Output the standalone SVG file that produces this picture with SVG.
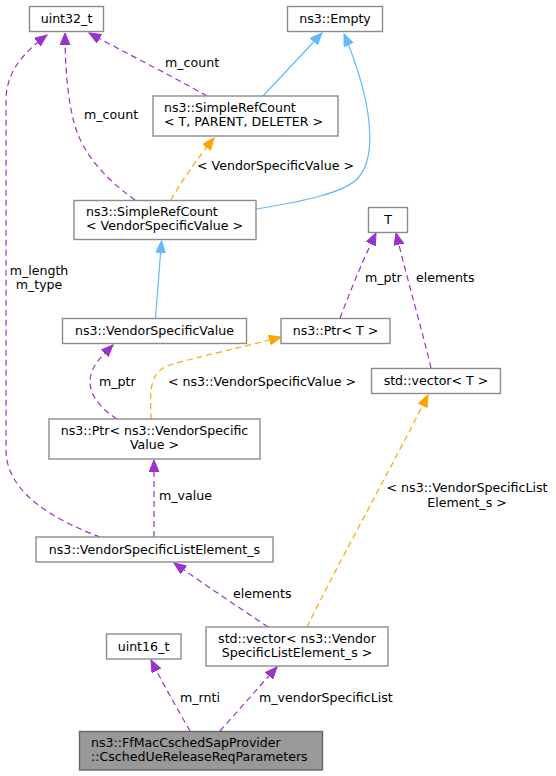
<svg xmlns="http://www.w3.org/2000/svg" width="556" height="776" viewBox="0 0 556 776">
<style>
text{font-family:"DejaVu Sans","Liberation Sans",sans-serif;font-size:12.6px;fill:#000}
.n rect{fill:#fff;stroke:#8c8c8c;stroke-width:1.4}
.n.main rect{fill:#999;stroke:#666}
.c{text-anchor:middle}
.e path{fill:none;stroke-width:1.2}
.p{stroke:#9a32cd;stroke-dasharray:6,4}
.o{stroke:#ffa500;stroke-dasharray:6,4}
.b{stroke:#63b8ff}
</style>
<defs>
<marker id="mp" markerUnits="userSpaceOnUse" markerWidth="13" markerHeight="11" refX="12" refY="5" orient="auto"><path d="M0,0 L12,5 L0,10 z" fill="#9a32cd" stroke="#9a32cd"/></marker>
<marker id="mo" markerUnits="userSpaceOnUse" markerWidth="13" markerHeight="11" refX="12" refY="5" orient="auto"><path d="M0,0 L12,5 L0,10 z" fill="#ffa500" stroke="#ffa500"/></marker>
<marker id="mb" markerUnits="userSpaceOnUse" markerWidth="13" markerHeight="11" refX="12" refY="5" orient="auto"><path d="M0,0 L12,5 L0,10 z" fill="#63b8ff" stroke="#63b8ff"/></marker>
</defs>
<g id="edges" class="e">
<path class="b" d="M263,96 L322,33" marker-end="url(#mb)"/>
<path class="b" d="M256,209 C300,202 345,193 358,178 C378,156 372,100 344,34" marker-end="url(#mb)"/>
<path class="o" d="M171,200 C182,180 198,158 214,138" marker-end="url(#mo)"/>
<path class="p" d="M207,96 C170,75 120,50 89,33" marker-end="url(#mp)"/>
<path class="p" d="M135,200 C115,186 88,162 77,132 C67,104 65,62 65,33" marker-end="url(#mp)"/>
<path class="p" d="M100,537 C60,522 6,495 6,450 L6,100 C6,72 24,52 47,35" marker-end="url(#mp)"/>
<path class="b" d="M155.5,318 L161.5,241" marker-end="url(#mb)"/>
<path class="p" d="M117,419 C100,408 90,395 90,382 C90,367 100,358 113,345" marker-end="url(#mp)"/>
<path class="o" d="M151,419 C151,400 146,372 170,365 C200,356 240,348 281,337" marker-end="url(#mo)"/>
<path class="p" d="M340,318 C350,292 362,262 376,233" marker-end="url(#mp)"/>
<path class="p" d="M431,368 C422,330 408,282 396,233" marker-end="url(#mp)"/>
<path class="p" d="M154,537 L154,460" marker-end="url(#mp)"/>
<path class="p" d="M268,627 C240,608 205,585 174,563" marker-end="url(#mp)"/>
<path class="o" d="M307,627 C340,560 390,470 428,395" marker-end="url(#mo)"/>
<path class="p" d="M190,731 C178,710 162,682 151,660" marker-end="url(#mp)"/>
<path class="p" d="M220,731 C237,712 258,688 277,667" marker-end="url(#mp)"/>
</g>
<g id="edge-labels">
<text x="165" y="67">m_count</text>
<text x="84" y="119">m_count</text>
<text x="197" y="170">&lt; VendorSpecificValue &gt;</text>
<text class="c" x="39" y="275">m_length</text>
<text class="c" x="39" y="289">m_type</text>
<text x="99" y="386">m_ptr</text>
<text x="168" y="386">&lt; ns3::VendorSpecificValue &gt;</text>
<text x="365" y="282">m_ptr</text>
<text x="416" y="282">elements</text>
<text x="159" y="500">m_value</text>
<text class="c" x="467" y="492">&lt; ns3::VendorSpecificList</text>
<text class="c" x="467" y="507">Element_s &gt;</text>
<text x="233" y="598">elements</text>
<text x="180" y="702">m_rnti</text>
<text x="259" y="702">m_vendorSpecificList</text>
</g>
<g id="uint32_t" class="n"><rect x="29.5" y="6.5" width="74" height="25"/><text class="c" x="66.5" y="22.5">uint32_t</text></g>
<g id="ns3_Empty" class="n"><rect x="287.5" y="6.5" width="95" height="25"/><text class="c" x="335" y="22.5">ns3::Empty</text></g>
<g id="SimpleRefCount_T" class="n"><rect x="153" y="96" width="185" height="40"/><text x="164" y="111.5">ns3::SimpleRefCount</text><text x="164" y="125.5">&lt; T, PARENT, DELETER &gt;</text></g>
<g id="SimpleRefCount_VSV" class="n"><rect x="74" y="200.5" width="182" height="39"/><text x="86" y="216">ns3::SimpleRefCount</text><text x="86" y="229.5">&lt; VendorSpecificValue &gt;</text></g>
<g id="T" class="n"><rect x="368.5" y="207.5" width="39" height="25"/><text class="c" x="388" y="224">T</text></g>
<g id="VendorSpecificValue" class="n"><rect x="62.5" y="318.5" width="184" height="25"/><text class="c" x="154.5" y="335">ns3::VendorSpecificValue</text></g>
<g id="Ptr_T" class="n"><rect x="281" y="318.5" width="109" height="25"/><text class="c" x="335.5" y="335">ns3::Ptr&lt; T &gt;</text></g>
<g id="vector_T" class="n"><rect x="371.5" y="368.5" width="129" height="25"/><text class="c" x="436" y="385">std::vector&lt; T &gt;</text></g>
<g id="Ptr_VSV" class="n"><rect x="49" y="419" width="211" height="40"/><text class="c" x="154.5" y="434.5">ns3::Ptr&lt; ns3::VendorSpecific</text><text class="c" x="154.5" y="448.5">Value &gt;</text></g>
<g id="VendorSpecificListElement_s" class="n"><rect x="36" y="537" width="237" height="25"/><text class="c" x="154.5" y="553.5">ns3::VendorSpecificListElement_s</text></g>
<g id="uint16_t" class="n"><rect x="106.5" y="634" width="74.5" height="25"/><text class="c" x="143.5" y="650.5">uint16_t</text></g>
<g id="vector_VSLE" class="n"><rect x="206" y="627" width="182" height="39"/><text class="c" x="297" y="642.5">std::vector&lt; ns3::Vendor</text><text class="c" x="297" y="656.5">SpecificListElement_s &gt;</text></g>
<g id="main" class="n main"><rect x="79.5" y="731.5" width="243" height="38.5"/><text x="91" y="747">ns3::FfMacCschedSapProvider</text><text x="91" y="760.5">::CschedUeReleaseReqParameters</text></g>
</svg>
